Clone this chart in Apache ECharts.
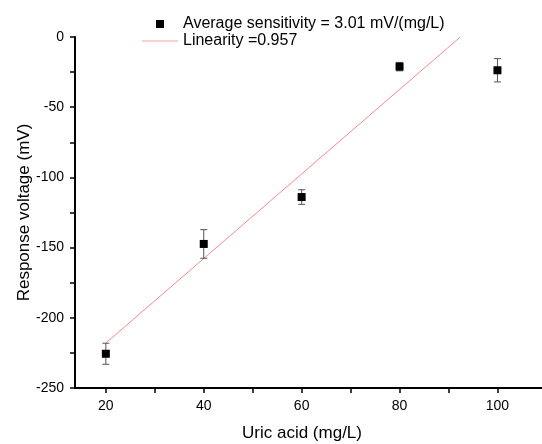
<!DOCTYPE html>
<html><head><meta charset="utf-8">
<script src="https://cdn.jsdelivr.net/npm/echarts@6/dist/echarts.min.js"></script>
<style>html,body{margin:0;padding:0;background:#fff}#c{width:542px;height:444px}</style>
</head><body><div id="c"></div>
<script>
var concentrations = [20, 40, 60, 80, 100];
var responses = [-225.6, -147.4, -114.0, -21.1, -23.7];
var errors = [7.5, 10.2, 5.2, 3.0, 8.3];
var fitX = [20, 92.4];
var fitY = [-218, 0];
var xTicks = [20, 30, 40, 50, 60, 70, 80, 90, 100];
var xLabels = [20, 40, 60, 80, 100];
var seriesName = 'Average sensitivity = 3.01 mV/(mg/L)';
var fitName = 'Linearity =0.957';

var font = 'Liberation Sans, Arial, sans-serif';
var chart = echarts.init(document.getElementById('c'));
var pts = concentrations.map(function(x, i){ return [x, responses[i]]; });
var errData = concentrations.map(function(x, i){ return [x, responses[i] - errors[i], responses[i] + errors[i]]; });
var fitData = fitX.map(function(x, i){ return [x, fitY[i]]; });

chart.setOption({
  animation: false,
  textStyle: {fontFamily: font},
  grid: {left: 75, top: 37, right: 0, bottom: 56, containLabel: false, outerBoundsMode: 'none'},
  legend: {
    top: 16, left: 142, orient: 'vertical', itemGap: 1, padding: 0,
    itemWidth: 36, itemHeight: 8, symbolKeepAspect: true,
    textStyle: {fontSize: 16, color: '#000', fontFamily: font},
    data: [
      {name: seriesName, icon: 'path://M0,0h1v1h-1z', itemStyle: {color: '#000', opacity: 1}},
      {name: fitName, icon: 'path://M0,0h36v1h-36z', itemStyle: {color: '#F7A0A0', opacity: 1}}
    ]
  },
  xAxis: {
    type: 'value', min: 13.7, max: 109.1,
    name: 'Uric acid (mg/L)', nameLocation: 'middle', nameGap: 37,
    nameTextStyle: {fontSize: 17, color: '#000', padding: [0, 0, 0, -13]},
    axisLine: {onZero: false, lineStyle: {color: '#000', width: 2}},
    axisTick: {show: true, customValues: xTicks, length: 5, lineStyle: {color: '#000', width: 1.5}},
    axisLabel: {customValues: xLabels, fontSize: 14, color: '#000', margin: 11},
    splitLine: {show: false}
  },
  yAxis: {
    type: 'value', min: -250, max: 0, interval: 50,
    name: 'Response voltage (mV)', nameLocation: 'middle', nameGap: 42, nameMoveOverlap: false,
    nameTextStyle: {fontSize: 17, color: '#000'},
    axisLine: {show: true, onZero: false, lineStyle: {color: '#000', width: 2}},
    axisTick: {show: true, length: 5, lineStyle: {color: '#000', width: 1.5}},
    minorTick: {show: true, splitNumber: 2, length: 5, lineStyle: {color: '#000', width: 1.5}},
    axisLabel: {fontSize: 14, color: '#000', margin: 11},
    splitLine: {show: false}
  },
  series: [
    {
      name: fitName, type: 'line', data: fitData, symbol: 'none',
      lineStyle: {color: '#F58A8A', width: 1}, itemStyle: {color: '#F58A8A'}, z: 2
    },
    {
      name: 'err', type: 'custom', data: errData, z: 3,
      renderItem: function(params, api){
        var x = api.value(0);
        var lo = api.coord([x, api.value(1)]);
        var hi = api.coord([x, api.value(2)]);
        var w = 3.5;
        var st = {stroke: '#555', lineWidth: 1};
        return {type: 'group', children: [
          {type: 'line', shape: {x1: lo[0], y1: lo[1], x2: hi[0], y2: hi[1]}, style: st},
          {type: 'line', shape: {x1: lo[0]-w, y1: lo[1], x2: lo[0]+w, y2: lo[1]}, style: st},
          {type: 'line', shape: {x1: hi[0]-w, y1: hi[1], x2: hi[0]+w, y2: hi[1]}, style: st}
        ]};
      }
    },
    {
      name: seriesName, type: 'scatter', data: pts, symbol: 'rect', symbolSize: 8,
      itemStyle: {color: '#000', opacity: 1}, z: 4
    }
  ]
});
</script></body></html>
